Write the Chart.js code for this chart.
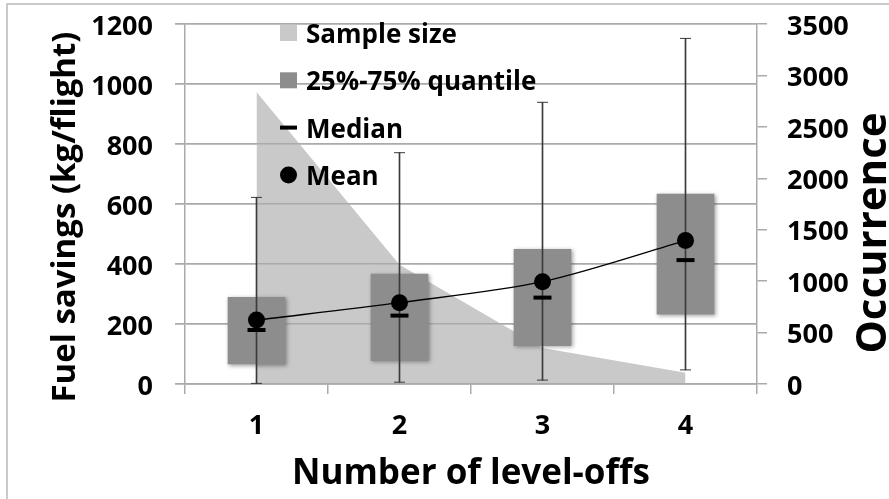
<!DOCTYPE html>
<html>
<head>
<meta charset="utf-8">
<script src="https://cdn.jsdelivr.net/npm/chart.js@4.4.1/dist/chart.umd.min.js"></script>
<style>
  html, body { margin: 0; padding: 0; background: #fff; overflow: hidden; }
  canvas { display: block; }
</style>
</head>
<body>
<canvas id="chart" width="889" height="499"></canvas>
<script>
// Categories and per-category statistics
const levelOffs   = ['1', '2', '3', '4'];
const sampleSize  = [2840, 1160, 350, 110];   // occurrences (right axis)
const q25         = [67, 78, 128, 233];       // kg/flight
const q75         = [289, 366, 449, 633];
const whiskerMin  = [2, 6, 13, 47];
const whiskerMax  = [622, 771, 939, 1152];
const medianVals  = [180, 228, 288, 413];
const meanVals    = [213, 271, 341, 478];

// Axis ticks / titles
const leftTicks   = { min: 0, max: 1200, step: 200 };
const rightTicks  = { min: 0, max: 3500, step: 500 };
const xTitle      = 'Number of level-offs';
const yTitle      = 'Fuel savings (kg/flight)';
const y2Title     = 'Occurrence';
const legendLabels = ['Sample size', '25%-75% quantile', 'Median', 'Mean'];

const FONT = '"Open Sans", "DejaVu Sans", sans-serif';
const GRID = '#aaaaaa';
const SAMPLE_COLOR = '#c9c9c9';
const BOX_COLOR = '#8d8d8d';
const WHISKER_COLOR = '#3a3a3a';

// white page + thin outer frame
const framePlugin = {
  id: 'frame',
  beforeDraw(chart) {
    const ctx = chart.ctx;
    ctx.save();
    ctx.fillStyle = '#fff';
    ctx.fillRect(0, 0, chart.width, chart.height);
    ctx.strokeStyle = '#b9b9b9';
    ctx.lineWidth = 1.5;
    ctx.beginPath();
    ctx.moveTo(7, chart.height);
    ctx.lineTo(7, 4);
    ctx.lineTo(chart.width, 4);
    ctx.stroke();
    ctx.restore();
  }
};

// gridlines sit above the sample-size area; boxes get a soft shadow
const layerPlugin = {
  id: 'layers',
  beforeDatasetDraw(chart, args) {
    if (args.index === 1) {
      const ctx = chart.ctx;
      ctx.save();
      ctx.shadowColor = 'rgba(0,0,0,0.35)';
      ctx.shadowBlur = 4;
      ctx.shadowOffsetX = 1.5;
      ctx.shadowOffsetY = 1.5;
    }
  },
  afterDatasetDraw(chart, args) {
    if (args.index === 0) {
      chart.scales.y.drawGrid(chart.chartArea);
    }
    if (args.index === 1) {
      chart.ctx.restore();
    }
  }
};

// legend drawn inside the plot area
const legendPlugin = {
  id: 'insideLegend',
  afterDatasetsDraw(chart) {
    const ctx = chart.ctx;
    const x0 = 280, tx = 306, base0 = 43, gap = 47.3;
    ctx.save();
    ctx.font = '700 26px ' + FONT;
    ctx.textAlign = 'left';
    ctx.textBaseline = 'alphabetic';
    legendLabels.forEach((label, i) => {
      const by = base0 + i * gap;
      const cy = by - 10;
      if (i === 0 || i === 1) {
        ctx.fillStyle = i === 0 ? SAMPLE_COLOR : BOX_COLOR;
        ctx.fillRect(x0, cy - 8, 17, 16);
      } else if (i === 2) {
        ctx.fillStyle = '#000';
        ctx.fillRect(x0, cy - 2, 17, 4);
      } else {
        ctx.fillStyle = '#000';
        ctx.beginPath();
        ctx.arc(x0 + 8.5, cy, 8.5, 0, Math.PI * 2);
        ctx.fill();
      }
      ctx.fillStyle = '#000';
      ctx.fillText(label, tx, by);
    });
    ctx.restore();
  }
};

// vertical axis titles, both reading bottom-to-top
const sideTitles = {
  id: 'sideTitles',
  afterDraw(chart) {
    const ctx = chart.ctx;
    ctx.save();
    ctx.fillStyle = '#000';
    ctx.textAlign = 'center';
    ctx.textBaseline = 'alphabetic';
    ctx.font = '700 33px ' + FONT;
    ctx.translate(75, 217);
    ctx.rotate(-Math.PI / 2);
    ctx.fillText(yTitle, 0, 0);
    ctx.restore();

    ctx.save();
    ctx.fillStyle = '#000';
    ctx.textAlign = 'center';
    ctx.textBaseline = 'alphabetic';
    ctx.font = '700 42px ' + FONT;
    ctx.translate(886, 233);
    ctx.rotate(-Math.PI / 2);
    ctx.fillText(y2Title, 0, 0);
    ctx.restore();
  }
};

const plainNumber = (v) => String(v);

// fixed scale boxes so the plot area spans x 185..757, y 24..384
function fixWidth(w) {
  return (s) => { s.width = w; s.paddingTop = 0; s.paddingBottom = 0; };
}

function build() {
  const ctx = document.getElementById('chart').getContext('2d');
  new Chart(ctx, {
    data: {
      labels: levelOffs,
      datasets: [
        {
          type: 'line',
          label: legendLabels[0],
          data: sampleSize,
          yAxisID: 'y2',
          fill: 'origin',
          backgroundColor: SAMPLE_COLOR,
          borderWidth: 0,
          borderColor: SAMPLE_COLOR,
          pointRadius: 0,
          tension: 0,
          order: 6
        },
        {
          type: 'bar',
          label: legendLabels[1],
          data: levelOffs.map((_, i) => [q25[i], q75[i]]),
          yAxisID: 'y',
          backgroundColor: BOX_COLOR,
          borderWidth: 0,
          barThickness: 57,
          grouped: false,
          order: 5
        },
        {
          type: 'bar',
          label: 'range',
          data: levelOffs.map((_, i) => [whiskerMin[i], whiskerMax[i]]),
          yAxisID: 'y',
          backgroundColor: WHISKER_COLOR,
          borderWidth: 0,
          barThickness: 1,
          grouped: false,
          order: 4
        },
        {
          type: 'line',
          label: 'caps',
          data: [...whiskerMin, ...whiskerMax].map((v, k) => ({ x: levelOffs[k % 4], y: v })),
          yAxisID: 'y',
          showLine: false,
          pointStyle: 'line',
          pointRadius: 5.5,
          pointBorderWidth: 1,
          pointBorderColor: WHISKER_COLOR,
          order: 3
        },
        {
          type: 'line',
          label: legendLabels[2],
          data: medianVals,
          yAxisID: 'y',
          showLine: false,
          pointStyle: 'line',
          pointRadius: 9,
          pointBorderWidth: 4,
          pointBorderColor: '#000',
          order: 2
        },
        {
          type: 'line',
          label: legendLabels[3],
          data: meanVals,
          yAxisID: 'y',
          borderColor: '#000',
          borderWidth: 1.3,
          tension: 0.3,
          pointRadius: 8.5,
          pointBackgroundColor: '#000',
          pointBorderWidth: 0,
          order: 1
        }
      ]
    },
    options: {
      responsive: false,
      animation: false,
      devicePixelRatio: 1,
      layout: { padding: { top: 24, left: 0, right: 0, bottom: 0 } },
      plugins: { legend: { display: false }, tooltip: { enabled: false } },
      scales: {
        x: {
          type: 'category',
          offset: true,
          grid: { offset: true, drawOnChartArea: false, drawTicks: true, tickLength: 10, color: GRID, lineWidth: 1.5 },
          border: { display: true, color: GRID, width: 1.5 },
          ticks: { color: '#000', font: { family: FONT, size: 27, weight: '700', lineHeight: 1.2 }, padding: 16, maxRotation: 0 },
          title: { display: true, text: xTitle, color: '#000', font: { family: FONT, size: 35, weight: '700', lineHeight: 1.2 }, padding: { top: 0, bottom: 4 } },
          afterFit(s) { s.height = 115; s.paddingLeft = 0; s.paddingRight = 0; }
        },
        y: {
          position: 'left',
          min: leftTicks.min, max: leftTicks.max,
          grid: { color: GRID, lineWidth: 1.5, tickLength: 10 },
          border: { display: true, color: GRID, width: 1.5 },
          ticks: { stepSize: leftTicks.step, callback: plainNumber, color: '#000', padding: 22, labelOffset: 3, font: { family: FONT, size: 27, weight: '700' } },
          afterFit: fixWidth(185)
        },
        y2: {
          position: 'right',
          min: rightTicks.min, max: rightTicks.max,
          grid: { drawOnChartArea: false, color: GRID, lineWidth: 1.5, tickLength: 10 },
          border: { display: true, color: GRID, width: 1.5 },
          ticks: { stepSize: rightTicks.step, callback: plainNumber, color: '#000', padding: 20, labelOffset: 3, font: { family: FONT, size: 27, weight: '700' } },
          afterFit: fixWidth(132)
        }
      }
    },
    plugins: [framePlugin, layerPlugin, legendPlugin, sideTitles]
  });
}

if (document.fonts && document.fonts.load) {
  Promise.all([
    document.fonts.load('700 27px "Open Sans"'),
    document.fonts.load('700 35px "Open Sans"')
  ]).then(build, build);
} else {
  build();
}
</script>
</body>
</html>
